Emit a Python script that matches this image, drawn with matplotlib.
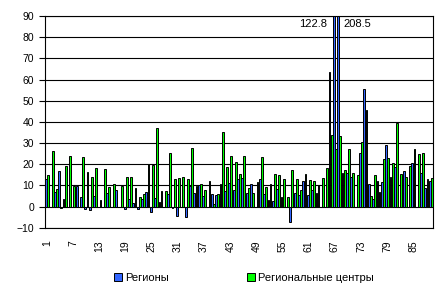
import numpy as np
from matplotlib import pyplot as plt

plt.rcParams['font.family'] = ['Liberation Sans', 'DejaVu Sans']

# values per region number 1..89
regions = [12.8, 0, 7.0, 16.8, 3.4, 0, 0, 9.7, 4.3, -1,
           -1.7, 5, -0.4, 0, 6.2, 0, 7.8, 0, -1.2, 3.4,
           1.5, -1, 3.4, 6.7, -2.8, 3.9, 2, 0, 6, -0.5,
           -4.3, 0, -4.8, 9.7, 6.2, 10, 5, 0, 5.7, 5.6,
           10.5, 7.5, 11.3, 7.8, 13, 13.3, 6.5, 10.6, 0, 12.8,
           6, 3, 2.6, 8.3, 4.5, 0, -7.5, 6.2, 5.3, 12,
           5.4, 7.8, 6.2, 0, 0, 63.7, 122.8, 208.5, 16, 16,
           13.8, 0, 25.2, 55.4, 10.5, 3.4, 11.9, 11.7, 29, 13.8,
           18.8, 0, 16.9, 0, 20.4, 0, 15.7, 8.6, 12.2]
centers = [14.9, 26.2, 8.1, -0.5, 19.1, 23.9, 9.8, 0, 23.2, 16.3,
           13.8, 18, 3, 17.7, 9, 10.6, 0, 9.7, 13.9, 13.8,
           8.6, 4.6, 5.7, 19.9, 19.6, 36.9, 7.3, 7.3, 25.3, 13,
           13.3, 13.9, 12.8, 27.5, 9.7, 10.5, 7.6, 12, 1, 5.9,
           35.2, 18.7, 23.9, 21.2, 15.4, 23.9, 8.6, 6.2, 11.6, 23.2,
           9, 10.6, 15.4, 14.7, 13.1, 4.5, 17.2, 13, 7.8, 15.3,
           12.5, 12.2, 10.2, 13.3, 18.3, 33.8, 27, 33.3, 17.2, 27,
           15.7, 14.9, 30.3, 45.6, 5, 14.7, 7, 22.3, 22.8, 20.4,
           39.3, 15.4, 13.8, 19.1, 27, 24.8, 25.2, 12.8, 13.3]
labels = [str(i) for i in range(1, 90)]
series_names = ["Регионы", "Региональные центры"]

x = np.arange(len(labels))
w = 0.42

fig = plt.figure(figsize=(4.48, 2.99), dpi=100)
ax = fig.add_axes([45 / 448, 1 - 227.7 / 299, 388 / 448, 211.7 / 299])

ax.set_axisbelow(True)
ax.grid(axis="y", color="black", linewidth=0.8)
b1 = ax.bar(x - 0.24, regions, w, color="#3366ff", edgecolor="black", linewidth=0.7,
            label=series_names[0])
b2 = ax.bar(x + 0.24, centers, w, color="#00ff00", edgecolor="black", linewidth=0.7,
            label=series_names[1])

ax.set_ylim(-10, 90)
ax.set_yticks(np.arange(-10, 91, 10))
ax.set_xlim(-0.5, len(labels) - 0.5)
ax.set_xticks(x[::6])
ax.set_xticklabels(labels[::6], rotation=90, fontsize=7.5)
ax.tick_params(axis="x", length=0, pad=9)
ax.tick_params(axis="y", length=4, width=0.8, pad=4, labelsize=7.5)
for s in ax.spines.values():
    s.set_linewidth(0.8)

ax.text(64.1, 86, "122.8", ha="right", va="center", fontsize=8)
ax.text(67.9, 86, "208.5", ha="left", va="center", fontsize=8)

fig.legend(handles=[b1, b2], loc="center", bbox_to_anchor=(0.545, 0.07), ncol=2,
           frameon=False, fontsize=8, handlelength=0.7, handleheight=0.7,
           handletextpad=0.3, columnspacing=7)

fig.savefig("out.png", dpi=100)
